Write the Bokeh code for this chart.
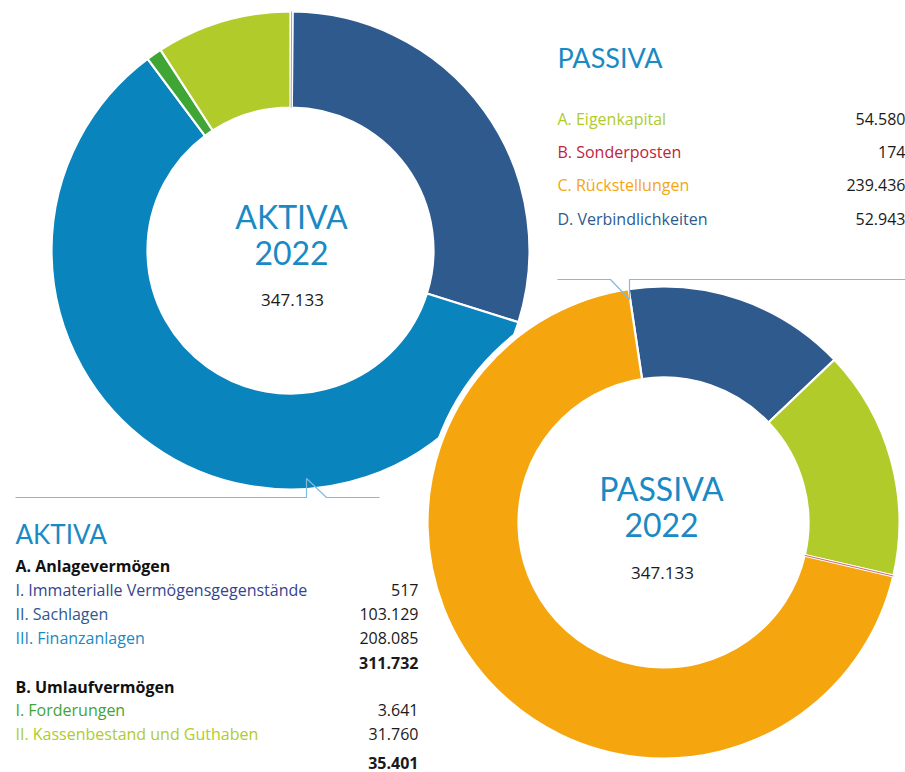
import numpy as np
from bokeh.plotting import figure
from bokeh.models import Range1d, ColumnDataSource
from bokeh.core.properties import value
from bokeh.embed import file_html
from bokeh.resources import INLINE

# ---------------- data ----------------
year = "2022"
total = 347133

aktiva_labels = ["I. Immaterialle Vermögensgegenstände", "II. Sachlagen", "III. Finanzanlagen",
                 "I. Forderungen", "II. Kassenbestand und Guthaben"]
aktiva_values = [517, 103129, 208085, 3641, 31760]
aktiva_group = ["A", "A", "A", "B", "B"]
aktiva_groups = ["A. Anlagevermögen", "B. Umlaufvermögen"]
aktiva_group_totals = [311732, 35401]
aktiva_colors = ["#6A78B0", "#2E5A8E", "#0A84BD", "#3FA535", "#B0CB2A"]
aktiva_text_colors = ["#36438F", "#2E5A8E", "#1A8AC4", "#3FA535", "#B0CB2A"]

passiva_labels = ["A. Eigenkapital", "B. Sonderposten", "C. Rückstellungen", "D. Verbindlichkeiten"]
passiva_values = [54580, 174, 239436, 52943]
passiva_colors = ["#B0CB2A", "#C0243C", "#F5A60F", "#2E5A8E"]
passiva_draw_order = [3, 0, 1, 2]   # clockwise from top

# ---------------- helpers ----------------
W, H = 905, 772
def Y(py):
    return H - py

def fmt(v):
    return f"{v:,}".replace(",", ".")

TFONT = value("Lato")
BFONT = value("Open Sans")
TITLE_BLUE = "#1A8AC4"
LINE_BLUE = "#7DBBE0"

p = figure(width=W, height=H, x_range=Range1d(0, W), y_range=Range1d(0, H),
           output_backend="svg", toolbar_location=None, min_border=0,
           x_axis_type=None, y_axis_type=None)
p.grid.visible = False
p.outline_line_color = None
p.background_fill_color = "white"
p.border_fill_color = "white"


def donut(cx, cy, R, r, vals, cols, offset_deg):
    vals = np.asarray(vals, dtype=float)
    cum = np.concatenate([[0.0], np.cumsum(vals)]) / vals.sum() * 2 * np.pi
    off = np.deg2rad(offset_deg)
    start = np.pi / 2 - cum[:-1] - off
    end = np.pi / 2 - cum[1:] - off
    src = ColumnDataSource(dict(start=start, end=end, color=cols))
    p.annular_wedge(x=cx, y=Y(cy), inner_radius=r, outer_radius=R,
                    start_angle="start", end_angle="end", direction="clock",
                    fill_color="color", line_color="white", line_width=2.2, source=src)
    # keep very thin slices visible as a fine line
    thin = (cum[1:] - cum[:-1]) < np.deg2rad(1.0)
    if thin.any():
        mid = (start + end) / 2
        ts = ColumnDataSource(dict(
            x0=cx + r * np.cos(mid[thin]), y0=Y(cy) + r * np.sin(mid[thin]),
            x1=cx + R * np.cos(mid[thin]), y1=Y(cy) + R * np.sin(mid[thin]),
            color=[c for c, t in zip(cols, thin) if t]))
        p.segment(x0="x0", y0="y0", x1="x1", y1="y1", line_color="color",
                  line_width=1, line_alpha=0.7, source=ts)


# AKTIVA donut
donut(290, 250, 239, 143, aktiva_values, aktiva_colors, 0.0)

# PASSIVA donut with white halo
p.circle(x=[663], y=[Y(522)], radius=241, fill_color="white", line_color=None)
pv = [passiva_values[i] for i in passiva_draw_order]
pc = [passiva_colors[i] for i in passiva_draw_order]
donut(663, 522, 236, 145, pv, pc, -8.5)

# centre texts
for cx, ty, name in [(291, 216, "AKTIVA"), (661, 488, "PASSIVA")]:
    p.text(x=[cx, cx], y=[Y(ty), Y(ty + 36)], text=[name, year], text_font=TFONT,
           text_font_size="32px", text_color=TITLE_BLUE, text_align="center",
           text_baseline="middle")
p.text(x=[292, 662], y=[Y(299), Y(572)], text=[fmt(total), fmt(total)], text_font=BFONT,
       text_font_size="17px", text_color="#1a1a1a", text_align="center", text_baseline="middle")

# callout lines
p.line(x=[15, 306, 306, 326, 379], y=[Y(497), Y(497), Y(478), Y(497), Y(497)],
       line_color=LINE_BLUE, line_width=1.2)
p.line(x=[557, 610, 629, 629, 905], y=[Y(279), Y(279), Y(299), Y(279), Y(279)],
       line_color=LINE_BLUE, line_width=1.2)

# AKTIVA table
p.text(x=[15], y=[Y(533)], text=["AKTIVA"], text_font=TFONT, text_font_size="26px",
       text_color=TITLE_BLUE, text_align="left", text_baseline="middle")

lab_x, lab_y, lab_t, lab_c, lab_w = [], [], [], [], []
val_x, val_y, val_t, val_w = [], [], [], []
row_y = {"A": [565, 589, 613, 637, 662], "B": [686, 709, 733, 762]}
for gi, g in enumerate(["A", "B"]):
    ys = row_y[g]
    lab_x.append(15); lab_y.append(Y(ys[0])); lab_t.append(aktiva_groups[gi])
    lab_c.append("#111111"); lab_w.append("bold")
    idx = [i for i, gg in enumerate(aktiva_group) if gg == g]
    for k, i in enumerate(idx):
        yy = ys[1 + k]
        lab_x.append(15); lab_y.append(Y(yy)); lab_t.append(aktiva_labels[i])
        lab_c.append(aktiva_text_colors[i]); lab_w.append("normal")
        val_x.append(418); val_y.append(Y(yy)); val_t.append(fmt(aktiva_values[i])); val_w.append("normal")
    val_x.append(418); val_y.append(Y(ys[-1])); val_t.append(fmt(aktiva_group_totals[gi])); val_w.append("bold")

p.text(x="x", y="y", text="t", text_color="c", text_font_style="w",
       source=ColumnDataSource(dict(x=lab_x, y=lab_y, t=lab_t, c=lab_c, w=lab_w)),
       text_font=BFONT, text_font_size="16px", text_align="left", text_baseline="middle")
p.text(x="x", y="y", text="t", text_font_style="w",
       source=ColumnDataSource(dict(x=val_x, y=val_y, t=val_t, w=val_w)),
       text_font=BFONT, text_font_size="16px", text_color="#1a1a1a",
       text_align="right", text_baseline="middle")

# PASSIVA legend
p.text(x=[557], y=[Y(57)], text=["PASSIVA"], text_font=TFONT, text_font_size="27px",
       text_color=TITLE_BLUE, text_align="left", text_baseline="middle")
py_rows = [118, 151, 184, 218]
p.text(x=[557] * 4, y=[Y(v) for v in py_rows], text=passiva_labels, text_color=passiva_colors,
       text_font=BFONT, text_font_size="16px", text_align="left", text_baseline="middle")
p.text(x=[905] * 4, y=[Y(v) for v in py_rows], text=[fmt(v) for v in passiva_values],
       text_font=BFONT, text_font_size="16px", text_color="#1a1a1a",
       text_align="right", text_baseline="middle")

open("out.html", "w").write(file_html(p, INLINE))
